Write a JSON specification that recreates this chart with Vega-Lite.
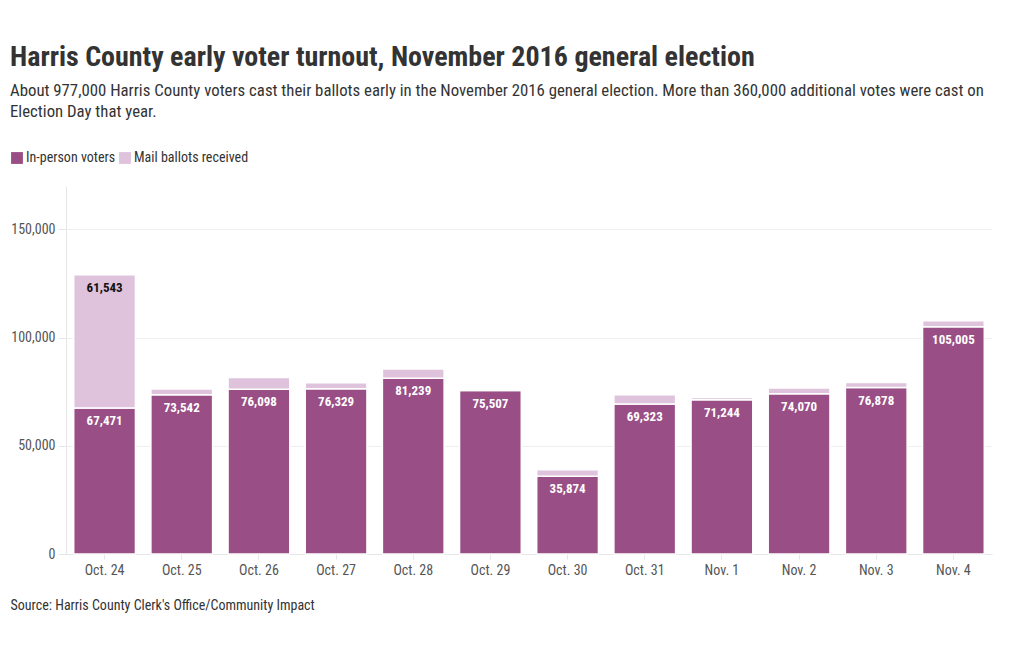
{
  "$schema": "https://vega.github.io/schema/vega-lite/v6.json",
  "autosize": {"type": "fit", "contains": "padding"},
  "width": 1020,
  "height": 650,
  "padding": {"left": 10, "right": 28, "top": 44, "bottom": 38},
  "background": "white",
  "title": {
    "text": "Harris County early voter turnout, November 2016 general election",
    "subtitle": ["About 977,000 Harris County voters cast their ballots early in the November 2016 general election. More than 360,000 additional votes were cast on", "Election Day that year."],
    "anchor": "start",
    "frame": "bounds",
    "font": "Roboto Condensed, Liberation Sans Narrow, Roboto, sans-serif",
    "fontSize": 28,
    "fontWeight": "bold",
    "color": "#333333",
    "subtitleFont": "Roboto Condensed, Liberation Sans Narrow, Roboto, sans-serif",
    "subtitleFontSize": 16.8,
    "subtitleColor": "#333333",
    "subtitlePadding": 11,
    "subtitleLineHeight": 21,
    "offset": 65
  },
  "data": {
    "values": [
      {"date": "Oct. 24", "type": "In-person voters", "value": 67471},
      {"date": "Oct. 24", "type": "Mail ballots received", "value": 61543},
      {"date": "Oct. 25", "type": "In-person voters", "value": 73542},
      {"date": "Oct. 25", "type": "Mail ballots received", "value": 2700},
      {"date": "Oct. 26", "type": "In-person voters", "value": 76098},
      {"date": "Oct. 26", "type": "Mail ballots received", "value": 5400},
      {"date": "Oct. 27", "type": "In-person voters", "value": 76329},
      {"date": "Oct. 27", "type": "Mail ballots received", "value": 2800},
      {"date": "Oct. 28", "type": "In-person voters", "value": 81239},
      {"date": "Oct. 28", "type": "Mail ballots received", "value": 4200},
      {"date": "Oct. 29", "type": "In-person voters", "value": 75507},
      {"date": "Oct. 29", "type": "Mail ballots received", "value": 0},
      {"date": "Oct. 30", "type": "In-person voters", "value": 35874},
      {"date": "Oct. 30", "type": "Mail ballots received", "value": 3000},
      {"date": "Oct. 31", "type": "In-person voters", "value": 69323},
      {"date": "Oct. 31", "type": "Mail ballots received", "value": 4200},
      {"date": "Nov. 1", "type": "In-person voters", "value": 71244},
      {"date": "Nov. 1", "type": "Mail ballots received", "value": 1100},
      {"date": "Nov. 2", "type": "In-person voters", "value": 74070},
      {"date": "Nov. 2", "type": "Mail ballots received", "value": 2600},
      {"date": "Nov. 3", "type": "In-person voters", "value": 76878},
      {"date": "Nov. 3", "type": "Mail ballots received", "value": 2400},
      {"date": "Nov. 4", "type": "In-person voters", "value": 105005},
      {"date": "Nov. 4", "type": "Mail ballots received", "value": 2700}
    ]
  },
  "encoding": {
    "x": {
      "field": "date",
      "type": "nominal",
      "sort": null,
      "scale": {"paddingInner": 0.2, "paddingOuter": 0.1},
      "axis": {
        "title": "Source: Harris County Clerk's Office/Community Impact",
        "titleAnchor": "start",
        "titleAlign": "left",
        "titleX": -56,
        "titleY": 44,
        "titleFont": "Roboto Condensed, Liberation Sans Narrow, Roboto, sans-serif",
        "titleFontSize": 14,
        "titleFontWeight": "normal",
        "titleColor": "#333333",
        "labelAngle": 0,
        "labelFont": "Roboto Condensed, Liberation Sans Narrow, Roboto, sans-serif",
        "labelFontSize": 14,
        "labelColor": "#555555",
        "labelPadding": 4,
        "domainColor": "#e6e6e6",
        "tickColor": "#e6e6e6",
        "tickSize": 5
      }
    },
    "y": {
      "field": "value",
      "type": "quantitative",
      "stack": "zero",
      "scale": {"domain": [0, 170000], "nice": false},
      "axis": {
        "title": null,
        "values": [0, 50000, 100000, 150000],
        "format": ",d",
        "labelFont": "Roboto Condensed, Liberation Sans Narrow, Roboto, sans-serif",
        "labelFontSize": 14,
        "labelColor": "#555555",
        "labelPadding": 3,
        "tickColor": "#e6e6e6",
        "tickSize": 8,
        "domain": true,
        "domainColor": "#e6e6e6",
        "gridColor": "#efefef",
        "minExtent": 56
      }
    },
    "order": {"field": "type", "sort": "ascending"}
  },
  "layer": [
    {
      "mark": {"type": "bar", "stroke": "white", "strokeWidth": 1.5},
      "encoding": {
        "color": {
          "field": "type",
          "type": "nominal",
          "scale": {"domain": ["In-person voters", "Mail ballots received"], "range": ["#994e85", "#dfc3dc"]},
          "legend": {
            "title": null,
            "orient": "none",
            "legendX": -56,
            "legendY": -35,
            "direction": "horizontal",
            "symbolType": "square",
            "symbolSize": 140,
            "symbolStrokeWidth": 0,
            "labelFont": "Roboto Condensed, Liberation Sans Narrow, Roboto, sans-serif",
            "labelFontSize": 14,
            "labelColor": "#333333",
            "columnPadding": 2,
            "labelOffset": 2
          }
        }
      }
    },
    {
      "mark": {
        "type": "text",
        "baseline": "top",
        "dy": 7,
        "font": "Roboto Condensed, Liberation Sans Narrow, Roboto, sans-serif",
        "fontSize": 13,
        "fontWeight": "bold"
      },
      "encoding": {
        "text": {
          "condition": {"test": "datum.type === 'In-person voters' || datum.value > 10000", "field": "value", "format": ",d"},
          "value": ""
        },
        "color": {
          "condition": {"test": "datum.type === 'Mail ballots received'", "value": "#111111"},
          "value": "#ffffff"
        }
      }
    }
  ],
  "config": {
    "view": {"stroke": null},
    "axisX": {"grid": false},
    "axisY": {"grid": true}
  }
}
